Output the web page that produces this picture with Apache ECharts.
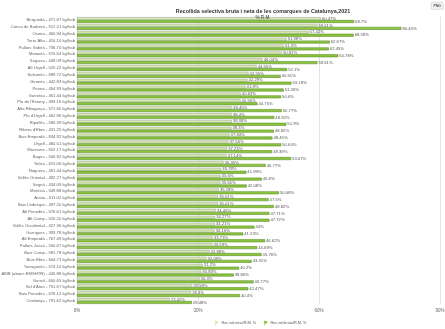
<!DOCTYPE html>
<html>
<head>
<meta charset="utf-8">
<script src="https://cdn.jsdelivr.net/npm/echarts@6/dist/echarts.min.js"></script>
<style>
html,body{margin:0;padding:0;background:#fff;}
#chart{width:445px;height:329px;}
</style>
</head>
<body>
<div id="chart"></div>
<script>
const categories = [
  "Berguedà - 471.87 kg/hab","Conca de Barberà - 512.21 kg/hab","Osona - 460.94 kg/hab","Terra Alta - 416.10 kg/hab",
  "Pallars Sobirà - 736.70 kg/hab","Moianès - 570.54 kg/hab","Segarra - 449.09 kg/hab","Alt Urgell - 520.22 kg/hab",
  "Solsonès - 689.72 kg/hab","Gironès - 442.83 kg/hab","Priorat - 454.93 kg/hab","Garrotxa - 461.44 kg/hab",
  "Pla de l'Estany - 493.16 kg/hab","Alta Ribagorça - 571.60 kg/hab","Pla d'Urgell - 462.96 kg/hab","Ripollès - 580.39 kg/hab",
  "Ribera d'Ebre - 431.25 kg/hab","Baix Empordà - 834.92 kg/hab","Urgell - 484.51 kg/hab","Maresme - 552.17 kg/hab",
  "Bages - 500.92 kg/hab","Selva - 615.06 kg/hab","Noguera - 451.44 kg/hab","Vallès Oriental - 492.27 kg/hab",
  "Segrià - 434.09 kg/hab","Montsià - 549.88 kg/hab","Anoia - 511.02 kg/hab","Baix Llobregat - 497.20 kg/hab",
  "Alt Penedès - 576.61 kg/hab","Alt Camp - 520.20 kg/hab","Vallès Occidental - 427.36 kg/hab","Garrigues - 393.78 kg/hab",
  "Alt Empordà - 767.49 kg/hab","Pallars Jussà - 550.67 kg/hab","Baix Camp - 581.78 kg/hab","Baix Ebre - 604.71 kg/hab",
  "Tarragonès - 574.10 kg/hab","AMB (abans EMSHTR) - 445.88 kg/hab","Garraf - 600.65 kg/hab","Val d'Aran - 751.67 kg/hab",
  "Baix Penedès - 678.12 kg/hab","Cerdanya - 791.62 kg/hab"
];
const neta = [
  60.47,59.61,57.42,51.98,51.3,50.81,46.04,44.55,42.55,42.29,41.80,40.63,
  40.56,38.45,38.40,38.38,38.3,37.84,37.56,37.23,37.14,36.35,35.78,35.6,
  35.56,35.18,35.01,35.01,34.46,34.27,34.21,34.16,33.73,33.59,32.88,32.08,
  31.2,30.83,30.4,28.58,28.3,23.02
];
const bruta = [
  68.7,80.43,68.59,62.67,62.45,64.78,59.61,52.1,50.51,53.18,51.26,50.6,
  44.75,50.77,48.92,51.9,48.82,48.45,50.64,48.39,53.07,46.77,41.99,45.8,
  42.08,50.08,47.5,48.82,47.71,47.72,44.00,41.23,46.62,44.69,45.76,43.31,
  40.2,38.86,43.77,42.47,40.4,28.48
];
const xTicks = [0, 30, 60, 90];
const seriesNames = ["Rec.sel.neta/R.M. %", "Rec.sel.bruta/R.M. %"];

const FONT = 'Liberation Sans';
const chart = echarts.init(document.getElementById('chart'), null, {renderer:'canvas'});
const labelStyle = {show:true, position:'right', distance:1, fontSize:4.2, color:'#555', fontFamily:FONT,
  formatter: p => p.value + '%'};
chart.setOption({
  animation:false,
  title:{
    text:'Recollida selectiva bruta i neta de les comarques de Catalunya,2021',
    subtext:'% R.M.',
    left:258, top:4, textAlign:'center', itemGap:1.5,
    textStyle:{fontSize:5.4, fontWeight:'bold', color:'#333', fontFamily:FONT},
    subtextStyle:{fontSize:4.6, color:'#333', fontFamily:FONT}
  },
  legend:{
    data:seriesNames, left:210, top:315.5, itemWidth:4, itemHeight:5, itemGap:8,
    icon:'path://M0,0H1.2V10H0Z M1.2,1H6V6H1.2Z',
    itemStyle:{borderWidth:0},
    textStyle:{fontSize:3.8, color:'#555', fontFamily:FONT, padding:[0,0,0,-2]}
  },
  grid:{left:77, right:5, top:16.6, bottom:24.6, containLabel:false, outerBoundsMode:'none'},
  xAxis:{
    type:'value', min:xTicks[0], max:xTicks[xTicks.length-1], interval:30,
    axisLabel:{formatter:'{value}%', fontSize:4.5, color:'#666', margin:4, fontFamily:FONT},
    axisLine:{show:false}, axisTick:{show:false},
    splitLine:{show:true, lineStyle:{color:'#e4e4e4', width:1}}
  },
  yAxis:{
    type:'category', data:categories, inverse:true,
    axisLabel:{fontSize:4.2, color:'#666', margin:2, fontFamily:FONT, interval:0},
    axisLine:{show:false}, axisTick:{show:false}
  },
  series:[
    {name:seriesNames[0], type:'bar', data:neta, barGap:'0%', barCategoryGap:'14%',
     itemStyle:{color:'#d2ecaa', borderColor:'#a9a9a9', borderWidth:0.6}, label:labelStyle},
    {name:seriesNames[1], type:'bar', data:bruta,
     itemStyle:{color:'#8cc63f', borderColor:'#5f8f2a', borderWidth:0.6}, label:labelStyle}
  ],
  graphic:[
    {type:'group', left:431, top:2, children:[
      {type:'rect', shape:{x:0,y:0,width:12,height:7,r:1}, style:{fill:'#f4f4f4', stroke:'#bbb', lineWidth:0.5}},
      {type:'text', x:6, y:3.5, style:{text:'PNG', fontSize:3.5, fontWeight:'bold', fill:'#555', align:'center', verticalAlign:'middle', fontFamily:FONT}}
    ]}
  ]
});
</script>
</body>
</html>
